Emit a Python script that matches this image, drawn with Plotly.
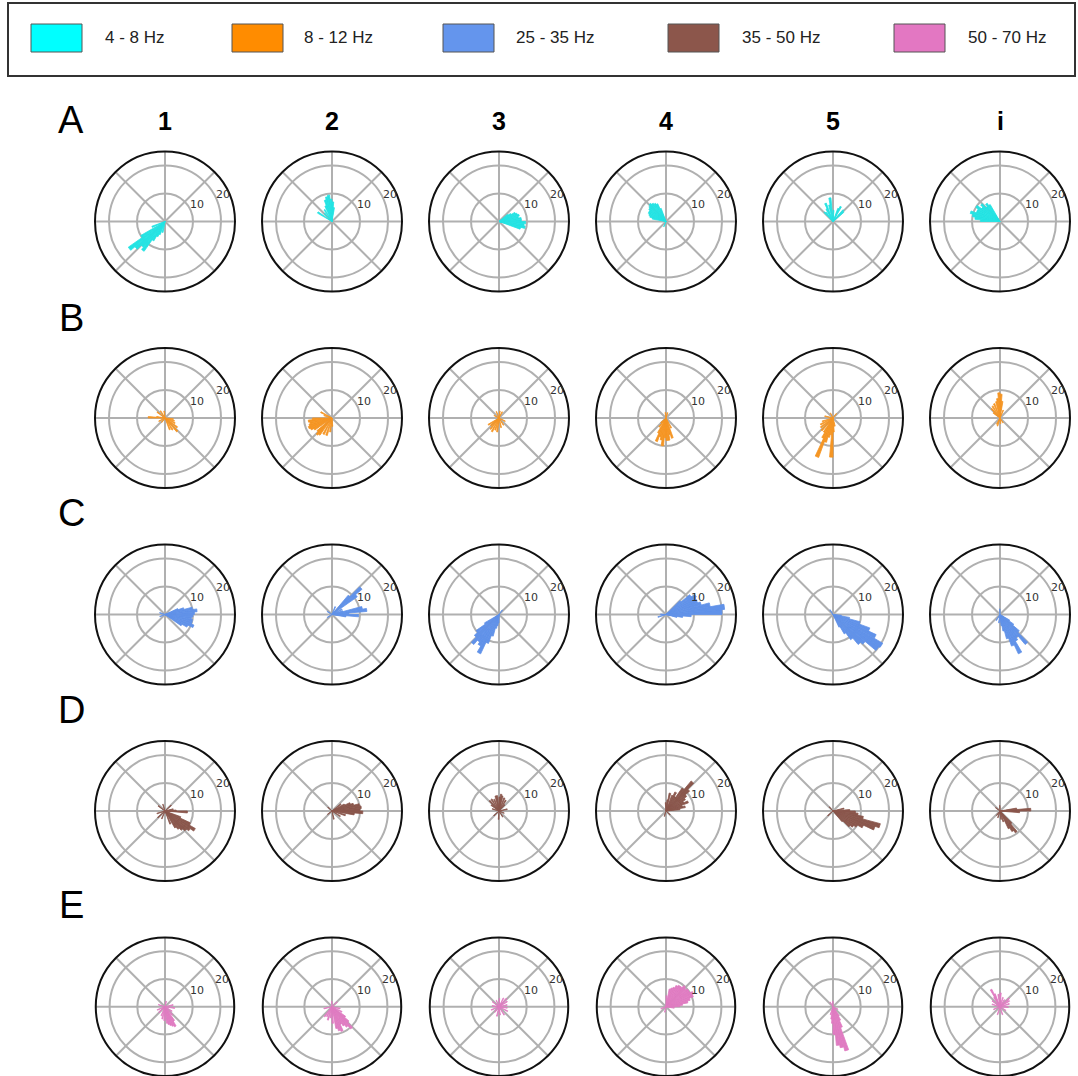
import math
import plotly.graph_objects as go

# Figure size (px)
W, H = 1078, 1076

BANDS = ["4 - 8 Hz", "8 - 12 Hz", "25 - 35 Hz", "35 - 50 Hz", "50 - 70 Hz"]
ROW_LABELS = ["A", "B", "C", "D", "E"]
COL_LABELS = ["1", "2", "3", "4", "5", "i"]
BAR_COLORS = ["#25e3e3", "#f59624", "#6192e9", "#8a574c", "#e07cc2"]
SWATCH_COLORS = ["#00ffff", "#ff8c00", "#6495ed", "#8c564b", "#e377c2"]

R_MAX = 25
RADIAL_TICKS = [10, 20]
RLABEL_ANGLE = 22.5  # degrees, where the radial tick labels sit
BIN_WIDTH = 5  # degrees per histogram bin

# Bin centres (deg) and counts for each panel, one list per column
THETA_A = [
    [202.5, 212.5, 217.5, 222.5, 227.5, 232.5, 237.5, 242.5, 247.5, 257.5],
    [82.5, 87.5, 92.5, 97.5, 102.5, 107.5, 112.5, 122.5, 132.5, 147.5],
    [342.5, 347.5, 352.5, 357.5, 2.5, 7.5, 12.5, 17.5, 22.5, 27.5, 32.5, 37.5],
    [112.5, 117.5, 122.5, 127.5, 132.5, 137.5, 142.5, 147.5, 152.5, 157.5, 162.5, 167.5, 247.5],
    [42.5, 47.5, 62.5, 67.5, 87.5, 97.5, 102.5, 112.5, 117.5, 127.5, 132.5],
    [122.5, 127.5, 132.5, 137.5, 142.5, 147.5, 152.5, 157.5, 162.5, 167.5, 172.5, 177.5],
]
R_A = [
    [5, 10, 16, 14, 12, 13, 8, 6, 5, 4],
    [5, 7, 8, 9.5, 9, 8, 6, 5, 4, 6],
    [8, 9.5, 9, 9.5, 8, 8, 7, 7.5, 7, 6.5, 5, 4],
    [5, 7, 7.5, 8, 8.5, 8, 7.5, 7, 7, 6.5, 6, 5, 2],
    [5, 5.5, 6, 5, 4, 8.5, 6, 7, 5, 4, 4.5],
    [7, 8, 7, 9, 8, 10, 9, 9, 11, 10, 9, 7],
]

THETA_B = [
    [97.5, 122.5, 142.5, 172.5, 177.5, 207.5, 232.5, 292.5, 302.5, 312.5, 322.5, 332.5, 342.5, 352.5],
    [152.5, 162.5, 182.5, 187.5, 192.5, 197.5, 202.5, 207.5, 212.5, 222.5, 227.5, 232.5, 242.5, 252.5, 262.5, 272.5],
    [62.5, 82.5, 112.5, 152.5, 212.5, 222.5, 232.5, 242.5, 252.5, 262.5, 282.5, 302.5, 332.5],
    [72.5, 97.5, 222.5, 232.5, 242.5, 247.5, 252.5, 257.5, 262.5, 267.5, 272.5, 277.5, 282.5, 287.5, 297.5],
    [52.5, 117.5, 167.5, 197.5, 207.5, 217.5, 227.5, 237.5, 242.5, 247.5, 252.5, 257.5, 262.5, 267.5, 272.5, 282.5],
    [67.5, 82.5, 87.5, 92.5, 97.5, 102.5, 112.5, 122.5, 132.5, 142.5, 242.5, 252.5, 277.5, 302.5],
]
R_B = [
    [2.5, 3, 3.5, 3, 6, 2.5, 2, 4.5, 5, 6.5, 5.5, 4, 3.5, 3],
    [4.5, 3, 7, 8.5, 8, 8.5, 9, 8.5, 7.5, 7, 8, 7.5, 6.5, 6.5, 5, 3],
    [2.5, 2.5, 2.5, 2, 4.5, 4, 5, 5.5, 4.5, 5, 3.5, 3, 2.5],
    [2, 2, 2.5, 4, 6, 9, 7, 8, 10, 7, 8, 8, 6, 7.5, 4],
    [2, 2, 3, 4, 5, 5.5, 6, 6, 8, 15, 9, 7, 6, 14, 5, 3],
    [3, 6, 8.5, 9, 7, 6, 5.5, 5, 4.5, 3, 2.5, 3, 2, 2],
]

THETA_C = [
    [327.5, 332.5, 337.5, 342.5, 347.5, 352.5, 357.5, 2.5, 7.5, 12.5, 17.5, 22.5, 162.5, 202.5],
    [2.5, 7.5, 12.5, 17.5, 27.5, 37.5, 42.5, 47.5, 67.5, 147.5, 212.5, 352.5, 357.5],
    [52.5, 212.5, 217.5, 222.5, 227.5, 232.5, 237.5, 242.5, 247.5, 252.5, 257.5, 262.5, 267.5],
    [2.5, 7.5, 12.5, 17.5, 22.5, 27.5, 32.5, 37.5, 42.5, 177.5, 197.5, 347.5, 352.5, 357.5],
    [122.5, 297.5, 302.5, 307.5, 312.5, 317.5, 322.5, 327.5, 332.5, 337.5, 342.5, 347.5, 352.5],
    [92.5, 237.5, 262.5, 277.5, 282.5, 287.5, 292.5, 297.5, 302.5, 307.5, 312.5, 317.5, 322.5, 327.5],
]
R_C = [
    [7, 9, 11, 10, 10, 9.5, 10, 10.5, 11.5, 10, 7, 5, 2, 2],
    [6, 12.5, 11, 4, 4, 11, 14, 9, 3, 2, 2, 5, 9.5],
    [2, 6, 10, 11.5, 14, 12, 13, 15.5, 11, 8, 5, 4, 3],
    [20, 21, 16, 13, 12, 12, 12.5, 11, 7, 2, 3, 4, 6, 9],
    [2, 5, 8, 11, 14, 15, 20, 20.5, 17, 14, 10, 6, 3],
    [2, 2.5, 3, 4, 6, 9, 12, 15.5, 11, 10, 14, 9, 6, 4],
]

THETA_D = [
    [12.5, 42.5, 107.5, 142.5, 197.5, 222.5, 247.5, 292.5, 302.5, 307.5, 312.5, 317.5, 322.5, 327.5, 332.5, 337.5, 357.5, 2.5],
    [2.5, 7.5, 12.5, 17.5, 22.5, 27.5, 37.5, 137.5, 217.5, 282.5, 327.5, 342.5, 352.5, 357.5],
    [12.5, 47.5, 57.5, 67.5, 77.5, 82.5, 87.5, 97.5, 102.5, 112.5, 122.5, 132.5, 142.5, 162.5, 222.5, 267.5, 302.5, 337.5],
    [7.5, 12.5, 17.5, 22.5, 27.5, 32.5, 37.5, 42.5, 47.5, 52.5, 57.5, 62.5, 67.5, 77.5, 82.5, 92.5, 252.5, 317.5],
    [2.5, 12.5, 132.5, 222.5, 312.5, 317.5, 322.5, 327.5, 332.5, 337.5, 342.5, 347.5, 352.5, 357.5],
    [2.5, 7.5, 92.5, 142.5, 232.5, 252.5, 277.5, 287.5, 297.5, 302.5, 307.5, 312.5, 357.5],
]
R_D = [
    [3, 3, 2.5, 3, 3, 3.5, 3, 5, 7, 8, 9, 10, 11, 12.5, 10, 6, 8, 4],
    [10, 10.5, 10, 8, 7, 5, 4, 2, 2, 3, 3.5, 5, 8, 11],
    [3, 3, 4.5, 5, 5.5, 6, 5, 5.5, 5.5, 4.5, 5, 5, 3.5, 2.5, 2.5, 3, 2.5, 2],
    [5, 7, 6, 8.5, 7, 8, 9, 11, 14, 10, 6, 7.5, 6, 6.5, 4, 3, 2, 2],
    [6, 4, 2, 2.5, 5, 8, 9, 10, 12, 16, 17.5, 11, 9, 8],
    [11, 6, 2, 2, 2, 2.5, 3, 4, 7, 8.5, 9.5, 6, 7],
]

THETA_E = [
    [12.5, 77.5, 162.5, 202.5, 222.5, 247.5, 257.5, 267.5, 277.5, 282.5, 287.5, 292.5, 297.5, 302.5, 312.5, 327.5, 352.5],
    [42.5, 92.5, 192.5, 232.5, 242.5, 252.5, 262.5, 272.5, 282.5, 287.5, 292.5, 297.5, 302.5, 307.5, 312.5, 317.5, 322.5, 332.5, 347.5],
    [12.5, 32.5, 47.5, 62.5, 87.5, 112.5, 142.5, 172.5, 202.5, 232.5, 257.5, 277.5, 302.5, 332.5, 352.5],
    [2.5, 7.5, 12.5, 17.5, 22.5, 27.5, 32.5, 37.5, 42.5, 47.5, 52.5, 57.5, 62.5, 67.5, 72.5, 77.5, 87.5, 202.5, 257.5, 352.5],
    [92.5, 122.5, 252.5, 262.5, 267.5, 272.5, 277.5, 282.5, 287.5, 292.5, 297.5, 302.5, 332.5],
    [17.5, 32.5, 42.5, 57.5, 72.5, 87.5, 97.5, 112.5, 117.5, 122.5, 142.5, 162.5, 202.5, 252.5, 287.5, 327.5, 357.5],
]
R_E = [
    [3, 2, 2.5, 3, 3, 3.5, 4.5, 5, 6, 6.5, 7, 7.5, 8, 6, 4, 3, 3.5],
    [2.5, 2, 3, 4.5, 4, 5, 4, 6, 8, 9, 9.5, 7, 8, 9, 10.5, 8, 6, 4, 3],
    [3, 3.5, 4, 3.5, 3, 2.5, 3, 2.5, 3, 2.5, 3.5, 3, 3.5, 3.5, 3],
    [5, 6, 8, 9, 10.5, 11, 10, 10, 9.5, 10, 9, 9, 8.5, 7.5, 7, 6.5, 4, 2, 2, 3],
    [2, 2, 3, 4.5, 6, 10, 14, 15, 16.5, 8, 5.5, 4, 2],
    [3.5, 4, 4.5, 3, 3.5, 5, 4.5, 5, 7, 4, 3.5, 3, 2.5, 3, 3, 2.5, 3],
]

THETAS = [THETA_A, THETA_B, THETA_C, THETA_D, THETA_E]
RADII = [R_A, R_B, R_C, R_D, R_E]

# Panel grid geometry (px): centres of each rose and its radius
COL_X = [165, 332, 499, 666, 833, 1000]
ROW_Y = [221.5, 418, 614.5, 811, 1007.5]
RADIUS = 70

fig = go.Figure()
layout_polars = {}
annotations = []
k = 0
for i in range(5):
    for j in range(6):
        k += 1
        name = "polar" if k == 1 else f"polar{k}"
        fig.add_trace(go.Barpolar(
            theta=THETAS[i][j], r=RADII[i][j], width=BIN_WIDTH,
            marker=dict(color=BAR_COLORS[i], line=dict(width=0.8, color=BAR_COLORS[i])),
            opacity=1, subplot=name, showlegend=False,
        ))
        cx, cy = COL_X[j], ROW_Y[i]
        top = cy - RADIUS
        bottom = min(cy + RADIUS, H)
        half = (bottom - top) / 2
        pcx, pcy = cx, top + half  # actual centre of the drawn polar
        layout_polars[name] = dict(
            domain=dict(x=[(cx - half) / W, (cx + half) / W],
                        y=[max(1 - bottom / H, 0), min(1 - top / H, 1)]),
            bgcolor="white",
            radialaxis=dict(
                range=[0, R_MAX], tickvals=RADIAL_TICKS,
                showline=False, ticks="", showticklabels=False,
                gridcolor="#b0b0b0", gridwidth=1.6,
            ),
            angularaxis=dict(
                tickvals=[0, 45, 90, 135, 180, 225, 270, 315],
                showticklabels=False, ticks="",
                showline=True, linecolor="#111111", linewidth=2,
                gridcolor="#b0b0b0", gridwidth=1.6,
                direction="counterclockwise", rotation=0,
            ),
        )
        # radial tick labels along the 22.5 deg direction, nudged outward like matplotlib
        px_per_unit = half / R_MAX
        a = math.radians(RLABEL_ANGLE)
        for v in RADIAL_TICKS:
            lx = pcx + v * px_per_unit * math.cos(a) + 6
            ly = pcy - v * px_per_unit * math.sin(a) - 6
            annotations.append(dict(text=str(v), xref="paper", yref="paper",
                                    x=lx / W, y=1 - ly / H,
                                    xanchor="center", yanchor="middle", showarrow=False,
                                    font=dict(family="DejaVu Sans", size=11, color="#333333")))

fig.update_layout(**layout_polars)

shapes = []

# Legend frame
shapes.append(dict(type="rect", xref="paper", yref="paper",
                   x0=8 / W, x1=1075 / W, y0=1 - 76 / H, y1=1 - 3 / H,
                   line=dict(color="#333333", width=2), fillcolor="white", layer="below"))
SWATCH_X = [31, 232, 443, 668, 894]
TEXT_X = [103, 302, 514, 740, 966]
for n in range(5):
    shapes.append(dict(type="rect", xref="paper", yref="paper",
                       x0=SWATCH_X[n] / W, x1=(SWATCH_X[n] + 51) / W,
                       y0=1 - 52 / H, y1=1 - 24 / H,
                       line=dict(color="#555555", width=1), fillcolor=SWATCH_COLORS[n]))
    annotations.append(dict(text=BANDS[n], xref="paper", yref="paper",
                            x=TEXT_X[n] / W, y=1 - 38 / H, xanchor="left", yanchor="middle",
                            showarrow=False,
                            font=dict(family="Liberation Sans", size=17, color="#222222")))

# Column headers
for j, lab in enumerate(COL_LABELS):
    annotations.append(dict(text=f"<b>{lab}</b>", xref="paper", yref="paper",
                            x=COL_X[j] / W, y=1 - 121 / H, xanchor="center", yanchor="middle",
                            showarrow=False,
                            font=dict(family="Liberation Sans", size=25, color="black")))

# Row letters
ROW_LABEL_Y = [120, 318, 513, 710, 905]
for i, lab in enumerate(ROW_LABELS):
    annotations.append(dict(text=lab, xref="paper", yref="paper",
                            x=71 / W, y=1 - ROW_LABEL_Y[i] / H, xanchor="center", yanchor="middle",
                            showarrow=False,
                            font=dict(family="Liberation Sans", size=38, color="black")))

fig.update_layout(
    width=W, height=H,
    margin=dict(l=0, r=0, t=0, b=0),
    paper_bgcolor="white",
    shapes=shapes, annotations=annotations,
    showlegend=False,
)

fig.write_html("out.html")
